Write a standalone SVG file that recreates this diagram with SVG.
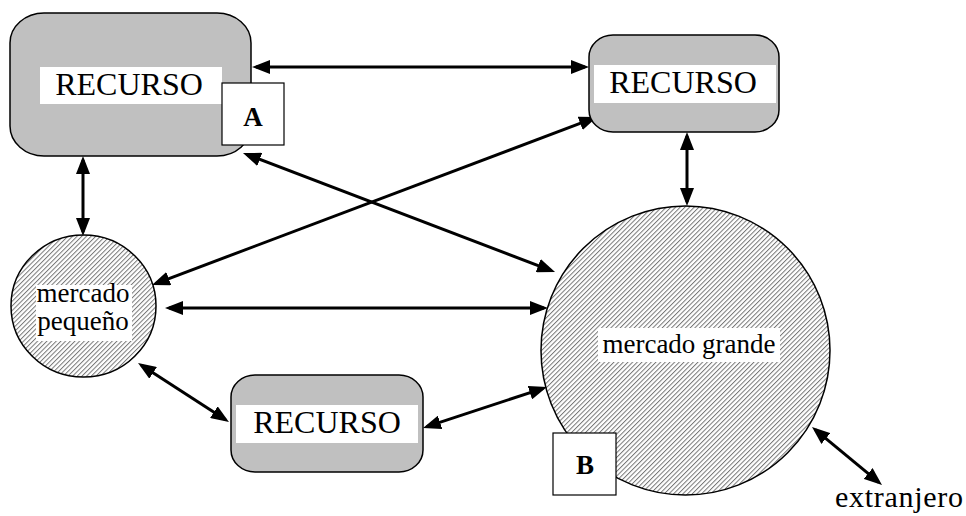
<svg xmlns="http://www.w3.org/2000/svg" width="966" height="516" viewBox="0 0 966 516">
<style>
.box{fill:#c0c0c0;stroke:#000;stroke-width:1.5}
.lbl{fill:#fff;stroke:none}
.tag{fill:#fff;stroke:#000;stroke-width:1.2}
.mkt{fill:url(#hatch);stroke:#000;stroke-width:1.5}
.t{font-family:"Liberation Serif","Times New Roman",serif;fill:#000;text-anchor:middle}
.big{font-size:32px}
.mid{font-size:27px}
.ext{font-size:30px}
.bold{font-size:27px;font-weight:bold}
.conn line{stroke:#000;stroke-width:3;marker-start:url(#ah);marker-end:url(#ah)}
</style>
<defs>
<pattern id="hatch" patternUnits="userSpaceOnUse" width="3.3" height="10" patternTransform="rotate(45)">
<rect x="0" y="0" width="3.3" height="10" fill="#fff"/>
<line x1="0.5" y1="0" x2="0.5" y2="10" stroke="#777" stroke-width="1"/>
</pattern>
<marker id="ah" viewBox="0 0 18 14" refX="14" refY="7" markerWidth="18" markerHeight="14" markerUnits="userSpaceOnUse" orient="auto-start-reverse">
<path d="M0,0 L18,7 L0,14 Z" fill="#000"/>
</marker>
</defs>
<rect width="966" height="516" fill="#fff"/>
<g id="conectores" class="conn">
<line x1="256" y1="67" x2="585" y2="67"/>
<line x1="83" y1="160" x2="83" y2="232"/>
<line x1="246.7" y1="154.4" x2="551.3" y2="270.6"/>
<line x1="155.7" y1="283.6" x2="593.3" y2="118.4"/>
<line x1="169" y1="308" x2="544" y2="308"/>
<line x1="141.4" y1="365.2" x2="225.6" y2="419.8"/>
<line x1="426.8" y1="426.7" x2="543.2" y2="388.3"/>
<line x1="687" y1="136" x2="687" y2="202"/>
<line x1="815.1" y1="429.6" x2="878.9" y2="482.4"/>
</g>
<g id="recurso-a">
<rect class="box" x="10" y="13" width="241" height="143" rx="34" ry="30"/>
<rect class="lbl" x="40" y="67" width="182" height="37"/>
<text class="t big" x="129" y="95">RECURSO</text>
<rect class="tag" x="222" y="83" width="62" height="62"/>
<text class="t bold" x="253" y="126">A</text>
</g>
<g id="recurso-derecha">
<rect class="box" x="589" y="35" width="190" height="97" rx="24" ry="22"/>
<rect class="lbl" x="594" y="65" width="182" height="38"/>
<text class="t big" x="683" y="93">RECURSO</text>
</g>
<g id="recurso-abajo">
<rect class="box" x="231" y="375" width="192" height="97" rx="24" ry="22"/>
<rect class="lbl" x="236" y="405" width="182" height="38"/>
<text class="t big" x="327" y="433">RECURSO</text>
</g>
<g id="mercado-pequeno">
<ellipse class="mkt" cx="83.5" cy="306" rx="72.5" ry="71"/>
<rect class="lbl" x="36" y="285" width="96" height="56"/>
<text class="t mid" x="83" y="302">mercado</text>
<text class="t mid" x="83" y="330">pequeño</text>
</g>
<g id="mercado-grande">
<circle class="mkt" cx="685.5" cy="350.5" r="144.5"/>
<rect class="lbl" x="598" y="328" width="182" height="34"/>
<text class="t mid" x="689" y="353">mercado grande</text>
<rect class="tag" x="553" y="433" width="63" height="62"/>
<text class="t bold" x="585" y="474">B</text>
</g>
<g id="extranjero">
<text class="t ext" x="899" y="507" textLength="128" lengthAdjust="spacing">extranjero</text>
</g>
</svg>
